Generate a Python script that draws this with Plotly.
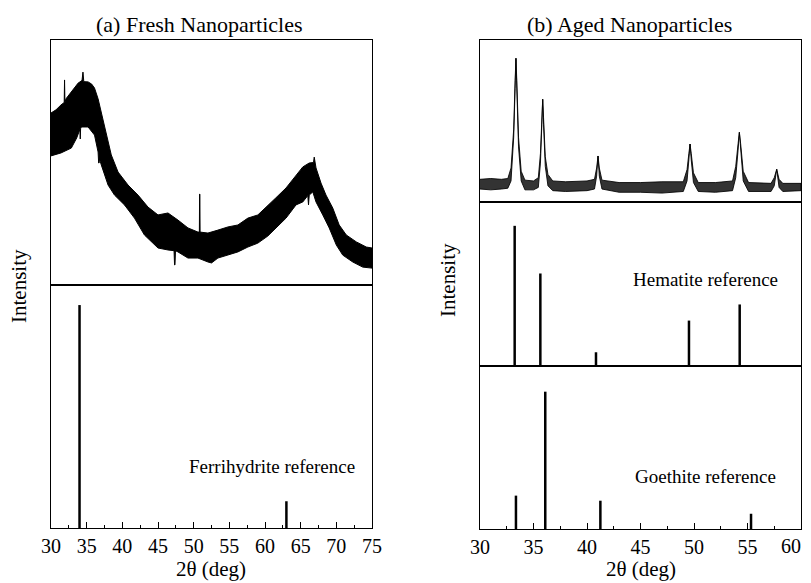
import plotly.graph_objects as go

# page body has an 8px margin; the figure is offset by it inside the 811x583 window
OFF = 8
W, H = 811 - OFF, 583 - OFF

# ---------------- data ----------------
# (a) fresh nanoparticles: noisy pattern drawn as upper / lower envelope of the noise band
fresh_upper_x = [30.0, 30.7, 31.4, 31.85, 31.9, 31.95, 32.1, 32.85, 33.4, 33.8, 34.35, 34.48, 34.6, 35.2,
                 35.7, 36.1, 36.6, 37.05, 37.75, 38.45, 39.4, 40.8, 42.2, 43.6, 45.0, 46.4, 47.8, 49.2,
                 50.6, 50.8, 50.83, 50.87, 50.9, 52.0, 53.4, 54.8, 56.2, 57.6, 59.0, 60.4, 61.5, 62.95,
                 64.35, 65.3, 66.2, 66.8, 66.9, 67.0, 67.15, 67.85, 68.55, 69.5, 70.4, 71.4, 72.8, 74.2, 75.0]
fresh_upper_y = [70.2, 71.5, 73.5, 74.5, 83.7, 74.5, 76.0, 78.8, 81.0, 82.4, 83.5, 86.9, 83.0, 82.9,
                 82.0, 80.4, 76.0, 70.6, 61.2, 53.1, 46.1, 40.8, 36.7, 31.8, 28.6, 29.4, 26.5, 23.3,
                 21.6, 21.6, 37.1, 37.1, 21.6, 21.2, 22.4, 23.7, 24.5, 27.3, 28.6, 32.7, 35.5, 39.6,
                 44.9, 48.2, 49.8, 50.0, 52.2, 49.5, 47.8, 41.6, 36.7, 31.4, 24.5, 20.4, 17.6, 15.5, 15.1]
fresh_lower_x = [30.0, 31.4, 32.85, 33.6, 34.05, 34.1, 34.15, 34.25, 35.2, 36.1, 36.6, 36.68, 36.74,
                 36.8, 37.05, 38.0, 38.9, 40.3, 41.7, 43.1, 45.0, 46.4, 47.25, 47.32, 47.38, 47.45,
                 47.8, 49.2, 50.6, 52.0, 52.5, 53.4, 54.8, 56.2, 57.6, 59.0, 60.4, 61.5, 62.95, 64.35,
                 65.3, 66.0, 66.1, 66.2, 66.7, 67.15, 68.1, 69.0, 70.0, 70.9, 72.3, 73.7, 75.0]
fresh_lower_y = [52.7, 53.9, 55.9, 60.0, 63.5, 59.6, 63.8, 64.5, 64.5, 61.2, 54.3, 49.8, 49.8,
                 51.5, 49.0, 40.8, 36.7, 32.7, 27.3, 20.4, 15.1, 14.3, 14.0, 8.2, 8.2, 14.0,
                 13.5, 11.0, 11.0, 9.4, 9.0, 11.0, 12.2, 13.5, 15.5, 17.1, 20.0, 23.3, 27.3, 32.7,
                 33.9, 36.5, 32.7, 36.7, 38.0, 33.9, 28.6, 23.3, 16.3, 12.2, 9.4, 7.3, 6.9]

ferrihydrite_pos = [34.0, 63.0]
ferrihydrite_int = [100, 12]

# (b) aged nanoparticles: noise band envelope with sharp peaks
aged_x = [30.0, 31.0, 32.0, 32.6, 32.9, 33.15, 33.28, 33.36, 33.44, 33.6, 33.85, 34.2, 35.0, 35.45,
          35.65, 35.78, 35.86, 35.94, 36.1, 36.35, 36.8, 38.0, 40.0, 40.7, 40.9, 41.03, 41.15, 41.4,
          43.0, 45.0, 47.0, 49.0, 49.35, 49.52, 49.63, 49.74, 49.95, 50.4, 52.0, 53.6, 53.9, 54.12,
          54.24, 54.36, 54.6, 55.1, 57.2, 57.5, 57.73, 57.95, 58.3, 60.0]
aged_upper = [14.0, 14.5, 14.0, 14.5, 21.0, 45.0, 75.0, 88.7, 75.0, 40.0, 19.0, 13.5, 13.0, 15.0,
              30.0, 52.0, 63.4, 52.0, 28.0, 17.0, 13.0, 12.5, 13.0, 14.0, 21.0, 28.4, 21.0, 13.5,
              12.0, 12.0, 12.5, 12.5, 20.0, 30.0, 35.8, 30.0, 18.0, 12.0, 12.0, 13.0, 22.0, 36.0,
              43.0, 36.0, 19.0, 12.0, 11.5, 15.0, 20.2, 14.0, 11.5, 11.5]
aged_lower = [8.0, 7.5, 8.0, 8.5, 13.0, 40.0, 70.0, 88.7, 70.0, 34.0, 13.0, 7.5, 7.5, 9.0,
              24.0, 48.0, 63.4, 48.0, 22.0, 10.0, 7.0, 6.5, 7.0, 8.0, 16.0, 28.4, 16.0, 8.0,
              6.0, 6.0, 5.5, 6.5, 13.0, 26.0, 35.8, 26.0, 12.0, 6.5, 6.0, 7.0, 15.0, 32.0,
              43.0, 32.0, 13.0, 6.5, 6.5, 10.0, 20.2, 9.0, 6.5, 7.0]

hematite_pos = [33.24, 35.64, 40.84, 49.53, 54.27]
hematite_int = [100, 66, 9.8, 32.4, 43.9]

goethite_pos = [33.36, 36.1, 41.25, 55.33]
goethite_int = [24.3, 100, 20.6, 11.1]

x_ticks_a = [30, 35, 40, 45, 50, 55, 60, 65, 70, 75]
x_ticks_b = [30, 35, 40, 45, 50, 55, 60]
x_ticklabels_b = ["30", "35", "40", "45", "50", "55", ""]   # last label drawn separately (edge)
x_edge_label_b = "60"

FONT = "Liberation Serif"


def px_x(p):
    return (p - OFF) / W


def px_y(p):
    return 1 - (p - OFF) / H


def sticks(pos, inten):
    xs, ys = [], []
    for p, v in zip(pos, inten):
        xs += [p, p, None]
        ys += [0, v, None]
    return xs, ys


fig = go.Figure()

# left top: fresh pattern
fig.add_trace(go.Scatter(
    x=fresh_upper_x + fresh_lower_x[::-1],
    y=fresh_upper_y + fresh_lower_y[::-1],
    fill="toself", fillcolor="black", mode="lines",
    line=dict(color="black", width=1), xaxis="x", yaxis="y", hoverinfo="skip"))

# left bottom: ferrihydrite sticks
sx, sy = sticks(ferrihydrite_pos, ferrihydrite_int)
fig.add_trace(go.Scatter(x=sx, y=sy, mode="lines", line=dict(color="black", width=2.5),
                         xaxis="x2", yaxis="y2"))

# right top: aged pattern
fig.add_trace(go.Scatter(
    x=aged_x + aged_x[::-1],
    y=aged_upper + aged_lower[::-1],
    fill="toself", fillcolor="rgba(0,0,0,0.8)", mode="lines",
    line=dict(color="rgba(0,0,0,0.85)", width=1), xaxis="x3", yaxis="y3", hoverinfo="skip"))

# right middle: hematite
sx, sy = sticks(hematite_pos, hematite_int)
fig.add_trace(go.Scatter(x=sx, y=sy, mode="lines", line=dict(color="black", width=2.5),
                         xaxis="x4", yaxis="y4"))

# right bottom: goethite
sx, sy = sticks(goethite_pos, goethite_int)
fig.add_trace(go.Scatter(x=sx, y=sy, mode="lines", line=dict(color="black", width=2.5),
                         xaxis="x5", yaxis="y5"))

left_dom = [px_x(51), px_x(372)]
right_dom = [px_x(480), px_x(801)]

frame = dict(showline=True, linecolor="black", linewidth=1, mirror=True,
             showgrid=False, zeroline=False, automargin=False)
hidden_y = dict(frame, showticklabels=False, ticks="")


def bottom_x(rng, tickvals, dom, anchor, ticktext=None):
    d = dict(frame, range=rng, domain=dom, anchor=anchor,
             tickvals=tickvals, ticks="inside", ticklen=6, tickwidth=1, tickcolor="black",
             ticklabeloverflow="allow",
             minor=dict(dtick=2.5, ticks="inside", ticklen=3, tickwidth=1, tickcolor="black"),
             tickfont=dict(family=FONT, size=20, color="black"))
    if ticktext is not None:
        d["ticktext"] = ticktext
    return d


def plain_x(rng, dom, anchor):
    return dict(frame, range=rng, domain=dom, anchor=anchor, showticklabels=False, ticks="")


fig.update_layout(
    template="none",
    width=W, height=H, margin=dict(l=0, r=0, t=0, b=0, pad=0, autoexpand=False),
    paper_bgcolor="white", plot_bgcolor="white", showlegend=False,
    font=dict(family=FONT, color="black"),
    xaxis=plain_x([30, 75], left_dom, "y"),
    yaxis=dict(hidden_y, range=[0, 100], domain=[px_y(285), px_y(40)], anchor="x"),
    xaxis2=bottom_x([30, 75], x_ticks_a, left_dom, "y2"),
    yaxis2=dict(hidden_y, range=[0, 109], domain=[px_y(528), px_y(285)], anchor="x2"),
    xaxis3=plain_x([30, 60], right_dom, "y3"),
    yaxis3=dict(hidden_y, range=[0, 100], domain=[px_y(202), px_y(40)], anchor="x3"),
    xaxis4=plain_x([30, 60], right_dom, "y4"),
    yaxis4=dict(hidden_y, range=[0, 117], domain=[px_y(366), px_y(202)], anchor="x4"),
    xaxis5=bottom_x([30, 60], x_ticks_b, right_dom, "y5", x_ticklabels_b),
    yaxis5=dict(hidden_y, range=[0, 118.7], domain=[px_y(529), px_y(366)], anchor="x5"),
)

ann = []


def label(text, x, y, size=21, angle=0):
    ann.append(dict(text=text, x=px_x(x), y=px_y(y), xref="paper", yref="paper",
                    showarrow=False, textangle=angle, xanchor="center", yanchor="middle",
                    font=dict(family=FONT, size=size, color="black")))


label("(a) Fresh Nanoparticles", 199, 24, size=22)
label("(b) Aged Nanoparticles", 629, 24, size=22)
label("2θ (deg)", 211, 569)
label("2θ (deg)", 641, 569)
label("Intensity", 19, 286, angle=-90)
label("Intensity", 448, 280, angle=-90)

# edge tick label of the right panel, kept inside the visible page
ann.append(dict(text=x_edge_label_b, x=x_ticks_b[-1], y=px_y(546), xref="x5", yref="paper",
                showarrow=False, xanchor="right", yanchor="middle", xshift=2,
                font=dict(family=FONT, size=20, color="black")))

for txt, xr, yr, xv, yv in [("Ferrihydrite reference", "x2", "y2", 61.0, 27.5),
                            ("Hematite reference", "x4", "y4", 51.1, 61.8),
                            ("Goethite reference", "x5", "y5", 51.1, 38.1)]:
    ann.append(dict(text=txt, x=xv, y=yv, xref=xr, yref=yr, showarrow=False,
                    font=dict(family=FONT, size=19, color="black")))

fig.update_layout(annotations=ann)

fig.write_html("out.html")
